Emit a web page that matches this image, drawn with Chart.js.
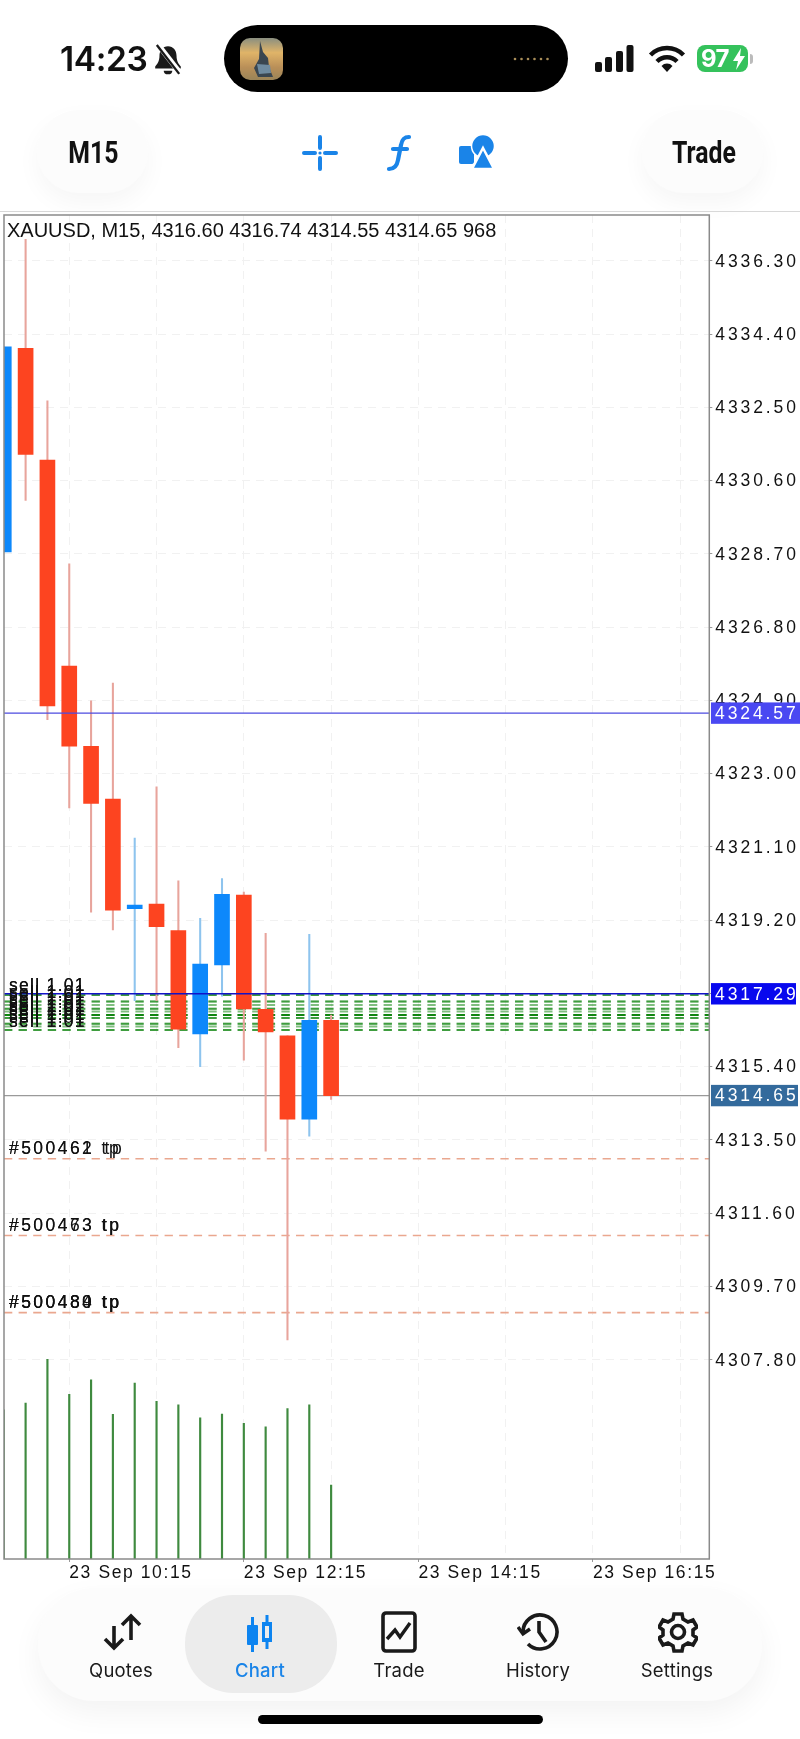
<!DOCTYPE html>
<html lang="en">
<head>
<meta charset="UTF-8">
<title>XAUUSD M15</title>
<script src="https://cdn.jsdelivr.net/npm/chart.js"></script>
<style>
  html, body { margin: 0; padding: 0; background: #fff; }
  body { position: relative; width: 800px; height: 1739px; overflow: hidden; font-family: Inter, sans-serif; color: #111; }
  #chart { position: absolute; left: 0; top: 0; }
  .abs { position: absolute; }
  .pill { position: absolute; top: 110px; height: 83px; background: #fcfcfc; border-radius: 42px; box-shadow: 0 10px 24px rgba(0,0,0,.04); }
  .navtext { position: absolute; top: 136px; font: 700 31px/34px Roboto, sans-serif; transform: scaleX(.8); color: #111; }
  #divider { position: absolute; left: 0; right: 0; top: 211px; height: 1px; background: #d8d8d8; }
  #tabbar { position: absolute; left: 38px; top: 1588px; width: 724px; height: 113px; border-radius: 56px; background: #fcfcfc; box-shadow: 0 12px 30px rgba(0,0,0,.05); }
  #tabsel { position: absolute; left: 185px; top: 1595px; width: 152px; height: 98px; border-radius: 48px; background: #ececec; }
  .tab { position: absolute; top: 1658px; width: 120px; text-align: center; font-size: 18.5px; line-height: 24px; color: #1a1a1a; letter-spacing: .2px; }
  #home { position: absolute; left: 258px; top: 1715px; width: 285px; height: 9px; border-radius: 5px; background: #000; }
</style>
</head>
<body>
<canvas id="chart" width="800" height="1739"></canvas>

<div class="abs" style="left:60px;top:40px;font:600 33.5px/38px Inter,sans-serif;letter-spacing:-.4px;">14:23</div>
<svg class="abs" style="left:153px;top:44px" width="30" height="32" viewBox="0 0 28 30">
  <path d="M14 2c-5 0-8 4-8 9 0 5-2 8-4 10v2h24v-2c-2-2-4-5-4-10 0-5-3-9-8-9z" fill="#1a1a1a"/>
  <path d="M10 25a4 3.4 0 0 0 8 0z" fill="#1a1a1a"/>
  <path d="M5 1l21 27" stroke="#fff" stroke-width="5"/><path d="M3.500 1l21 27" stroke="#1a1a1a" stroke-width="2.2"/>
</svg>
<div class="abs" style="left:224px;top:25px;width:344px;height:67px;border-radius:34px;background:#000;"></div>
<svg class="abs" style="left:240px;top:38px" width="43" height="42" viewBox="0 0 43 42">
  <defs><linearGradient id="thumb" x1="0" y1="0" x2="0" y2="1"><stop offset="0" stop-color="#8a8f80"/><stop offset=".35" stop-color="#e0b468"/><stop offset=".7" stop-color="#b98f58"/><stop offset="1" stop-color="#9a8458"/></linearGradient></defs>
  <rect width="43" height="42" rx="10" fill="url(#thumb)"/>
  <path d="M20 3l3 11 5 6 1 9 4 10H18l-4-9 5-9z" fill="#3a4650"/>
  <path d="M17 26l13 1 1 8-12 1z" fill="#6f8ba0"/>
</svg>
<svg class="abs" style="left:512px;top:56px" width="42" height="6"><g fill="#a98d58"><circle cx="3" cy="3" r="1.3"/><circle cx="9.500" cy="3" r="1.3"/><circle cx="16" cy="3" r="1.3"/><circle cx="22.500" cy="3" r="1.3"/><circle cx="29" cy="3" r="1.3"/><circle cx="35.500" cy="3" r="1.3"/></g></svg>

<svg class="abs" style="left:594px;top:44px" width="42" height="30"><g fill="#111"><rect x="1" y="18" width="7" height="10" rx="2"/><rect x="11" y="13" width="7" height="15" rx="2"/><rect x="22" y="7" width="7" height="21" rx="2"/><rect x="32.500" y="1" width="7" height="27" rx="2"/></g></svg>
<svg class="abs" style="left:648px;top:44px" width="38" height="30" viewBox="0 0 38 30" fill="none" stroke="#111" stroke-width="4.4"><path d="M2.500 11a23 23 0 0 1 33 0"/><path d="M9 17.500a14 14 0 0 1 20 0"/><path d="M19 28l-5.500-6a7.500 7.500 0 0 1 11 0z" fill="#111" stroke="none"/></svg>
<div class="abs" style="left:697px;top:45px;width:51px;height:27px;border-radius:8px;background:#35c25c;color:#fff;font:700 24px/27px Inter,sans-serif;padding-left:4px;box-sizing:border-box;letter-spacing:-.5px;">97</div>
<svg class="abs" style="left:732px;top:48px" width="14" height="22"><path d="M9 0L1 13h5l-2 9 9-14H8z" fill="#fff"/></svg>
<div class="abs" style="left:750px;top:54px;width:3px;height:10px;border-radius:0 3px 3px 0;background:#bbb;"></div>

<div class="pill" style="left:37px;width:111px;"></div>
<div class="pill" style="left:642px;width:121px;"></div>
<div class="navtext" style="left:62px;">M15</div>
<div class="navtext" style="left:664px;">Trade</div>
<svg class="abs" style="left:300px;top:133px" width="40" height="40" fill="none" stroke="#1a84e8" stroke-width="4" stroke-linecap="round"><path d="M4 20h11M25 20h11M20 4v11M20 25v11"/><circle cx="20" cy="20" r="1.6" fill="#1a84e8" stroke="none"/></svg>
<svg class="abs" style="left:384px;top:133px" width="30" height="40" fill="none" stroke="#1a84e8" stroke-width="4.2" stroke-linecap="round"><path d="M25 4c-5 0-7 2-8 8l-3 15c-1 6-4 9-9 9M9 16h14"/></svg>
<svg class="abs" style="left:458px;top:134px" width="38" height="38" fill="#1a84e8"><rect x="1" y="12" width="15" height="18" rx="2"/><circle cx="25" cy="12" r="11.500" stroke="#fff" stroke-width="1.500"/><path d="M25 14l11 21H14z" stroke="#fff" stroke-width="2.500"/></svg>
<div id="divider"></div>

<div id="tabbar"></div>
<div id="tabsel"></div>
<svg class="abs" style="left:102px;top:1612px" width="40" height="40" fill="none" stroke="#1a1a1a" stroke-width="3.6"><path d="M12 14v22M3 27l9 9 9-9"/><path d="M29 4v24M20 13l9-9 9 9"/></svg>
<svg class="abs" style="left:246px;top:1612px" width="30" height="40" fill="#0d84f0"><rect x="1" y="13" width="11" height="20" rx="1"/><rect x="5" y="5" width="3" height="35"/><rect x="16" y="10" width="10" height="20"/><rect x="19.500" y="3" width="3" height="34"/><rect x="19" y="14" width="4" height="12" fill="#ececec"/></svg>
<svg class="abs" style="left:381px;top:1611px" width="36" height="42" fill="none" stroke="#1a1a1a"><rect x="2" y="2" width="32" height="38" rx="3" stroke-width="3.6"/><path d="M6 28l8-9 5 7 10-14" stroke-width="3.4"/></svg>
<svg class="abs" style="left:517px;top:1611px" width="42" height="42" fill="none" stroke="#1a1a1a" stroke-width="3.6"><path d="M6 21a17 17 0 1 1 5 12"/><path d="M1 16l5 7 7-5" stroke-width="3.4"/><path d="M22 10v11l7 10"/></svg>
<svg class="abs" style="left:658px;top:1611px" width="40" height="42" viewBox="0 0 40 42" fill="none" stroke="#1a1a1a" stroke-width="3.6"><circle cx="20" cy="21" r="6.500"/><path d="M16 3h8l1 5 5 3 5-2 4 7-4 3v5l4 3-4 7-5-2-5 3-1 5h-8l-1-5-5-3-5 2-4-7 4-3v-5l-4-3 4-7 5 2 5-3z"/></svg>
<div class="tab" style="left:61px;">Quotes</div>
<div class="tab" style="left:200px;color:#1a84e8;font-weight:500;">Chart</div>
<div class="tab" style="left:339px;">Trade</div>
<div class="tab" style="left:478px;">History</div>
<div class="tab" style="left:617px;">Settings</div>
<div id="home"></div>

<script>
const headerText = 'XAUUSD, M15, 4316.60 4316.74 4314.55 4314.65 968';

// 15 minute bars, first one is 09:30
const times = ['09:30','09:45','10:00','10:15','10:30','10:45','11:00','11:15','11:30','11:45','12:00','12:15','12:30','12:45','13:00','13:15'];
const opens  = [4328.75,4334.03,4331.13,4325.79,4323.71,4322.34,4319.50,4319.62,4318.93,4316.25,4318.04,4319.85,4316.89,4316.20,4314.04,4316.60];
const highs  = [4334.07,4336.86,4332.67,4328.44,4324.89,4325.35,4321.33,4322.66,4320.22,4319.25,4320.28,4319.93,4318.86,4316.20,4318.83,4316.74];
const lows   = [4328.75,4330.09,4324.40,4322.11,4319.41,4318.95,4317.11,4317.11,4315.89,4315.40,4317.23,4315.57,4313.21,4308.31,4313.60,4314.55];
const closes = [4334.07,4331.28,4324.76,4323.71,4322.23,4319.46,4319.59,4319.03,4316.37,4318.06,4319.87,4316.90,4316.30,4314.04,4316.60,4314.65];
const volumes = [1950,2041,2612,2154,2345,1893,2302,2063,2018,1848,1897,1775,1730,1966,2018,968];

const yTicks = [4336.30,4334.40,4332.50,4330.60,4328.70,4326.80,4324.90,4323.00,4321.10,4319.20,4317.30,4315.40,4313.50,4311.60,4309.70,4307.80];
const xGrid = [3,7,11,15,19,23,27,31];
const xTickPos = [3,11,19,27];
const xTickLabels = ['23 Sep 10:15','23 Sep 12:15','23 Sep 14:15','23 Sep 16:15'];

const sellPrices = [4317.26,4317.26,4317.09,4317.09,4317.00,4316.90,4316.90,4316.83,4316.74,4316.74,4316.74,4316.74,4316.66,4316.66,4316.51,4316.51,4316.44,4316.35,4316.35];
const tpPrices = [4313.01,4311.02,4309.02];
const tpLabels = [['#500461 tp','#500462 tp'],['#500463 tp','#500473 tp'],['#500480 tp','#500484 tp','#500489 tp']];
const tpShift = [3, 0.6, 0.6];

const tags = [
  { price: 4324.57, text: '4324.57', bg: '#4a48f2', right: 800 },
  { price: 4317.29, text: '4317.29', bg: '#0808ee', right: 796 },
  { price: 4314.65, text: '4314.65', bg: '#336a9c', right: 798 }
];

const UP = '#0d88fb', DOWN = '#fd4420', UP_WICK = '#8ec4ee', DOWN_WICK = '#e8a49c';
const X_MIN = 0.01, X_MAX = 32.33;
const LABEL_FONT = '17.5px "Liberation Sans", sans-serif';

function hline(price, color, width, dash, order) {
  return {
    type: 'line',
    data: [{ x: X_MIN, y: price }, { x: X_MAX, y: price }],
    borderColor: color, borderWidth: width, borderDash: dash,
    pointRadius: 0, order
  };
}

const isUp = i => closes[i] >= opens[i];

const frameAndLabels = {
  id: 'frameAndLabels',
  beforeDraw(chart) {
    chart.ctx.letterSpacing = '2.9px'; // y tick labels are spaced out
  },
  afterDraw(chart) {
    const { ctx, chartArea: a, scales: { x, y } } = chart;
    ctx.save();

    // frame
    ctx.strokeStyle = '#8a8a8a';
    ctx.lineWidth = 1.5;
    ctx.strokeRect(a.left, a.top, a.right - a.left, a.bottom - a.top);

    // time labels start at their tick
    ctx.fillStyle = '#111';
    ctx.font = LABEL_FONT;
    ctx.textBaseline = 'middle';
    ctx.letterSpacing = '1.6px';
    xTickPos.forEach((v, i) => ctx.fillText(xTickLabels[i], x.getPixelForValue(v), 1573));

    // sell / tp line labels
    ctx.textBaseline = 'alphabetic';
    ctx.letterSpacing = '1.3px';
    sellPrices.forEach(p => ctx.fillText('sell 1.01', 9, y.getPixelForValue(p) - 3.5));
    ctx.letterSpacing = '2.45px';
    tpPrices.forEach((p, i) => {
      const py = y.getPixelForValue(p) - 5;
      tpLabels[i].forEach((t, j) => {
        const head = t.slice(0, -2);
        ctx.fillText(head, 9, py);
        ctx.fillText('tp', 9 + ctx.measureText(head).width + (j ? tpShift[i] : 0), py);
      });
    });

    // header
    ctx.letterSpacing = '0px';
    ctx.font = '20px "Liberation Sans", sans-serif';
    ctx.fillText(headerText, 7, 237);

    // price tags over the axis
    ctx.letterSpacing = '2.9px';
    ctx.font = LABEL_FONT;
    ctx.textBaseline = 'middle';
    tags.forEach(t => {
      const py = y.getPixelForValue(t.price);
      ctx.fillStyle = t.bg;
      ctx.fillRect(711, py - 10.7, t.right - 711, 21.4);
      ctx.fillStyle = '#fff';
      ctx.fillText(t.text, 715, py + 1);
    });
    ctx.restore();
    ctx.letterSpacing = '0px';
  }
};

new Chart(document.getElementById('chart'), {
  type: 'bar',
  data: {
    datasets: [
      // dashed sell and tp levels sit under everything
      ...sellPrices.map(p => hline(p, 'rgba(0,125,0,.5)', 2, [8.3, 6.3], 6)),
      ...tpPrices.map(p => hline(p, '#eaa78f', 1.6, [8.3, 6.3], 6)),
      hline(4314.65, '#9a9a9a', 1.2, [], 5),
      {
        label: 'Volume', yAxisID: 'yVol', grouped: false, barThickness: 1.5,
        backgroundColor: '#3f8a3f', order: 4,
        data: volumes.map((v, i) => ({ x: i, y: v }))
      },
      {
        label: 'Wick', grouped: false, barThickness: 1.4, order: 3,
        backgroundColor: times.map((t, i) => isUp(i) ? UP_WICK : DOWN_WICK),
        data: times.map((t, i) => ({ x: i, y: [lows[i], highs[i]] }))
      },
      {
        label: 'Body', grouped: false, barThickness: 15, order: 2,
        backgroundColor: times.map((t, i) => isUp(i) ? UP : DOWN),
        data: times.map((t, i) => ({ x: i, y: [opens[i], closes[i]] }))
      },
      hline(4324.57, '#4d4be0', 1.2, [], 1),
      hline(4317.29, '#1212c8', 1.5, [], 1)
    ]
  },
  options: {
    responsive: false,
    animation: false,
    events: [],
    layout: { padding: { left: 4, top: 215, right: 0, bottom: 0 } },
    plugins: { legend: { display: false }, tooltip: { enabled: false } },
    scales: {
      x: {
        type: 'linear', offset: false, min: X_MIN, max: X_MAX,
        afterBuildTicks(axis) { axis.ticks = xGrid.map(v => ({ value: v })); },
        afterFit(axis) { axis.height = 180; },
        border: { display: false, dash: [8, 6] },
        grid: {
          offset: false, color: '#f1f1f1', lineWidth: 1, tickLength: 3,
          tickColor: c => xTickPos.includes(c.tick.value) ? '#999' : 'transparent'
        },
        ticks: { display: false }
      },
      y: {
        position: 'right', min: 4302.63, max: 4337.49,
        afterBuildTicks(axis) { axis.ticks = yTicks.map(v => ({ value: v })); },
        afterFit(axis) { axis.width = 90.7; },
        border: { display: false, dash: [8, 6] },
        grid: { color: '#f1f1f1', lineWidth: 1, tickLength: 3, tickColor: '#999' },
        ticks: {
          color: '#111', padding: 3, labelOffset: 1, font: { family: 'Liberation Sans', size: 17.5 },
          callback: v => v.toFixed(2)
        }
      },
      yVol: { display: false, min: 0, max: 17580 }
    }
  },
  plugins: [frameAndLabels]
});
</script>
</body>
</html>
